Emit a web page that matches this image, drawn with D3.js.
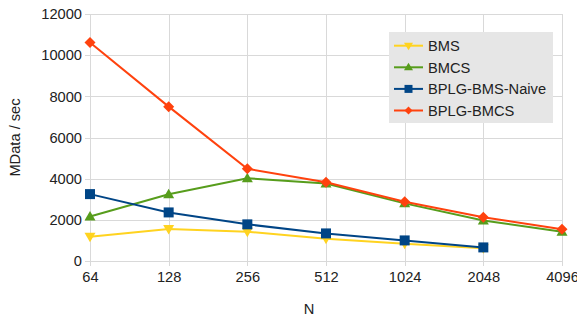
<!DOCTYPE html>
<html><head><meta charset="utf-8">
<script src="https://cdn.jsdelivr.net/npm/d3@7"></script>
<style>body{margin:0;background:#fff}svg{display:block}text{font-family:"Liberation Sans",Arial,sans-serif}</style>
</head><body><svg id="c" width="577" height="322"></svg>
<script>
const categories = ["64","128","256","512","1024","2048","4096"];
const yTicks = [0,2000,4000,6000,8000,10000,12000];
const seriesNames = ["BMS","BMCS","BPLG-BMS-Naive","BPLG-BMCS"];
const bms = [1180,1560,1420,1080,840,620];
const bmcs = [2160,3240,4020,3760,2800,1970,1420];
const naive = [3250,2360,1780,1340,1000,660];
const bplgBmcs = [10620,7500,4480,3830,2880,2130,1540];
const colors = ["#ffd320","#579d1c","#004586","#ff420e"];
const symbolsT = ["down","up","square","diamond"];

const svg = d3.select("#c");
const FS = 14.67;
const m = {l:90,r:15,t:14,b:61};
const W = 577, H = 322;
const x = d3.scalePoint().domain(categories).range([m.l, W-m.r]).padding(0);
const y = d3.scaleLinear().domain([0,12000]).range([H-m.b, m.t]);
const grid = "#d9d9d9";

// grid
svg.append("g").selectAll("line").data(yTicks).join("line")
  .attr("x1", m.l-5).attr("x2", W-m.r).attr("y1", d=>Math.round(y(d))+0.5).attr("y2", d=>Math.round(y(d))+0.5)
  .attr("stroke",grid).attr("stroke-width",1);
svg.append("g").selectAll("line").data(categories).join("line")
  .attr("x1", d=>Math.round(x(d))+0.5).attr("x2", d=>Math.round(x(d))+0.5).attr("y1", y(0)+5).attr("y2", y(12000))
  .attr("stroke",grid).attr("stroke-width",1);

// axes
const ya = d3.axisLeft(y).tickValues(yTicks).tickSize(0).tickPadding(8).tickFormat(d3.format("d"));
const gy = svg.append("g").attr("transform",`translate(${m.l},0)`).call(ya);
gy.select(".domain").remove();
gy.selectAll("text").attr("font-size",FS).attr("fill","#222");
const xa = d3.axisBottom(x).tickSize(0).tickPadding(11);
const gx = svg.append("g").attr("transform",`translate(0,${y(0)})`).call(xa);
gx.select(".domain").remove();
gx.selectAll("text").attr("font-size",FS).attr("fill","#222");

svg.append("text").attr("transform",`translate(20,${(y(0)+y(12000))/2}) rotate(-90)`)
  .attr("text-anchor","middle").attr("font-size",FS).attr("fill","#222").text("MData / sec");
svg.append("text").attr("x",309).attr("y",314).attr("text-anchor","middle")
  .attr("font-size",FS).attr("fill","#222").text("N");

function marker(g, type, cx, cy, col){
  let s;
  if(type==="square") s = "M-5,-5H5V5H-5Z";
  else if(type==="diamond") s = "M0,-5.5L5.5,0L0,5.5L-5.5,0Z";
  else if(type==="up") s = "M0,-5.5L5.5,4L-5.5,4Z";
  else s = "M0,5.5L5.5,-4L-5.5,-4Z";
  g.append("path").attr("d",s).attr("transform",`translate(${cx},${cy})`).attr("fill",col);
}

const allSeries = [bms,bmcs,naive,bplgBmcs];
const line = d3.line().x((d,i)=>x(categories[i])).y(d=>y(d));
allSeries.forEach((vals,k)=>{
  const g = svg.append("g");
  g.append("path").datum(vals).attr("d",line).attr("fill","none").attr("stroke",colors[k]).attr("stroke-width",2);
  vals.forEach((v,i)=>marker(g,symbolsT[k],x(categories[i]),y(v),colors[k]));
});

// legend
const lg = svg.append("g").attr("transform","translate(389,32)");
lg.append("rect").attr("width",164).attr("height",91).attr("fill","#e6e6e6");
seriesNames.forEach((n,k)=>{
  const yy = 13.7 + k*21.6;
  lg.append("line").attr("x1",5).attr("x2",34).attr("y1",yy).attr("y2",yy).attr("stroke",colors[k]).attr("stroke-width",2);
  const t = symbolsT[k];
  let s;
  if(t==="square") s="M-4,-4H4V4H-4Z"; else if(t==="diamond") s="M0,-4L4,0L0,4L-4,0Z";
  else if(t==="up") s="M0,-4.5L4.5,3L-4.5,3Z"; else s="M0,4.5L4.5,-3L-4.5,-3Z";
  lg.append("path").attr("d",s).attr("transform",`translate(19.5,${yy})`).attr("fill",colors[k]);
  lg.append("text").attr("x",39).attr("y",yy+5.2).attr("font-size",FS).attr("fill","#222").text(n);
});
</script></body></html>
